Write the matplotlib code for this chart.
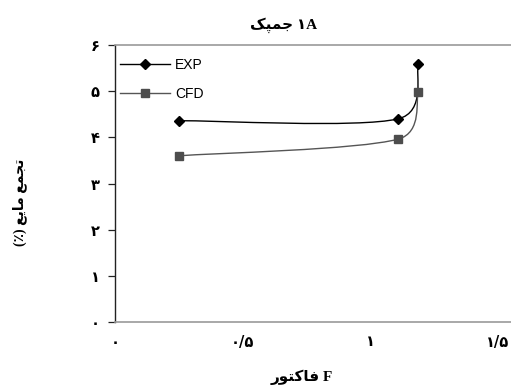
import numpy as np
import matplotlib
matplotlib.use('Agg')
import matplotlib.pyplot as plt
from matplotlib.path import Path
from matplotlib.patches import PathPatch
from matplotlib.lines import Line2D

# داده‌ها (خوانده شده از نمودار)
f_factor = [0.25, 1.11, 1.19]
exp_holdup = [4.36, 4.40, 5.59]
cfd_holdup = [3.60, 3.96, 4.99]

y_ticks = [0, 1, 2, 3, 4, 5, 6]
y_tick_labels = ['۰', '۱', '۲', '۳', '۴', '۵', '۶']
x_ticks = [0, 0.5, 1, 1.5]
x_tick_labels = ['۰', '۰/۵', '۱', '۱/۵']

# matplotlib متن عربی را شکل‌دهی نمی‌کند، پس ترتیب دیداری با فرم‌های نمایشی
title_text = '\uFB8F\uFB59\uFEE4\uFE9F ۱A'
xlabel_text = '\uFEAD\uFEEE\uFE98\uFB90\uFE8E\uFED3 F'
ylabel_text = '(٪) \uFECA\uFBFE\uFE8E\uFEE3 \uFECA\uFEE4\uFEA0\uFE97'

persian_font = ['Liberation Serif', 'DejaVu Sans']


def smooth_path(ax, xs, ys):
    """Bezier path through the points, like Excel's smoothed line."""
    pts = ax.transData.transform(np.column_stack([xs, ys]))
    n = len(pts)
    verts = [pts[0]]
    codes = [Path.MOVETO]
    for i in range(n - 1):
        p0 = pts[max(i - 1, 0)]
        p1 = pts[i]
        p2 = pts[i + 1]
        p3 = pts[min(i + 2, n - 1)]
        seg = np.linalg.norm(p2 - p1)
        t1 = p2 - p0
        t2 = p3 - p1
        l1 = min(np.linalg.norm(t1) / 6, seg / 2)
        l2 = min(np.linalg.norm(t2) / 6, seg / 2)
        c1 = p1 + t1 / np.linalg.norm(t1) * l1
        c2 = p2 - t2 / np.linalg.norm(t2) * l2
        verts += [c1, c2, p2]
        codes += [Path.CURVE4] * 3
    verts = ax.transData.inverted().transform(np.array(verts))
    return Path(verts, codes)


fig = plt.figure(figsize=(5.11, 3.89), dpi=100)
ax = fig.add_axes([115 / 511, 67 / 389, 408 / 511, 277 / 389])
ax.set_xlim(0, 1.6)
ax.set_ylim(0, 6)

for s in ['top', 'bottom', 'right']:
    ax.spines[s].set_color('#9a9a9a')
    ax.spines[s].set_linewidth(1.2)
ax.spines['left'].set_color('#222222')
ax.spines['left'].set_linewidth(1.0)

ax.set_yticks(y_ticks)
ax.set_yticklabels(y_tick_labels, fontsize=10.5, fontweight='bold', family='DejaVu Sans')
ax.tick_params(axis='y', direction='out', length=5, width=0.9, color='#222222', pad=6)
ax.set_xticks(x_ticks)
ax.set_xticklabels(x_tick_labels, fontsize=10.5, fontweight='bold', family='DejaVu Sans')
ax.tick_params(axis='x', length=0, pad=9)

# خطوط هموار
ax.add_patch(PathPatch(smooth_path(ax, f_factor, exp_holdup), fill=False,
                       edgecolor='black', lw=1.0))
ax.add_patch(PathPatch(smooth_path(ax, f_factor, cfd_holdup), fill=False,
                       edgecolor='#555555', lw=1.0))
ax.plot(f_factor, exp_holdup, ls='none', marker='D', ms=5.5, color='black')
ax.plot(f_factor, cfd_holdup, ls='none', marker='s', ms=6, color='#4d4d4d')

handles = [Line2D([], [], color='black', lw=1.0, marker='D', ms=5.5),
           Line2D([], [], color='#555555', lw=1.0, marker='s', ms=6, mfc='#4d4d4d', mec='#4d4d4d')]
fig.legend(handles, ['EXP', 'CFD'], loc='upper left', bbox_to_anchor=(120 / 511, 1 - 58 / 389),
           frameon=False, prop={'family': 'Liberation Sans', 'size': 10},
           handlelength=3.6, handletextpad=0.35, labelspacing=1.05,
           borderpad=0, borderaxespad=0)

fig.text(284 / 511, 1 - 25 / 389, title_text, ha='center', va='center',
         fontsize=11, fontweight='bold', family=persian_font)
fig.text(302 / 511, 1 - 377 / 389, xlabel_text, ha='center', va='center',
         fontsize=11, fontweight='bold', family=persian_font)
fig.text(20 / 511, 1 - 202 / 389, ylabel_text, ha='center', va='center', rotation=90,
         fontsize=10, fontweight='bold', family=persian_font)

fig.savefig('out.png', dpi=100)
